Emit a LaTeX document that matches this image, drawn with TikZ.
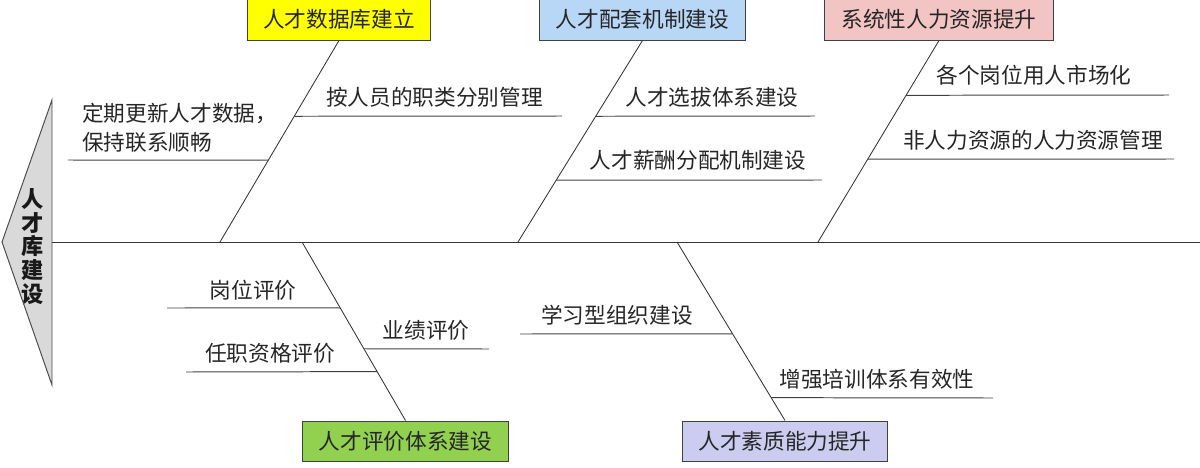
\documentclass[tikz,border=0pt]{standalone}
\usepackage{fontspec}
\setmainfont{Noto Sans CJK SC}
\usepackage{tikz}
\usetikzlibrary{calc}
\newcommand{\fsz}{\fontsize{15.4pt}{18pt}\selectfont}
\definecolor{dbfill}{RGB}{255,255,0}
\definecolor{mechfill}{RGB}{184,214,245}
\definecolor{hrfill}{RGB}{242,196,196}
\definecolor{evalfill}{RGB}{146,208,80}
\definecolor{qualfill}{RGB}{204,204,240}
\definecolor{headfill}{RGB}{217,217,217}

\begin{document}
\begin{tikzpicture}[
  x=0.025cm,y=-0.025cm,
  cause/.style={draw=black!75, line width=0.7pt, inner sep=0pt, font=\fsz, text=black!85, minimum height=1.0cm},
  bone/.style={draw=black!80, line width=0.6pt},
  twig/.style={draw=black!75, line width=0.7pt},
  lbl/.style={font=\fsz, text=black!85, inner sep=0pt}
]
\useasboundingbox (0,0) rectangle (1200,467);
% head and spine
\draw[fill=headfill, draw=black!70, line width=0.7pt] (2,242) -- (52,100) -- (52,385) -- cycle;
\node[font=\bfseries\fontsize{15.8pt}{16.8pt}\selectfont, align=center, inner sep=0pt, text=black!90] (head) at (33,246.5) {人\\才\\库\\建\\设};
\coordinate (spineL) at (52,242); \coordinate (spineR) at (1200,242);
\draw[bone, line width=0.7pt] (spineL) -- (spineR);
% category boxes
\node[cause, fill=dbfill, minimum width=4.55cm, minimum height=1.025cm] (db) at (339,19.5) {人才数据库建立};
\node[cause, fill=mechfill, minimum width=5.125cm, minimum height=1.025cm] (mech) at (642.5,19.5) {人才配套机制建设};
\node[cause, fill=hrfill, minimum width=5.7cm, minimum height=1.025cm] (hr) at (939,19.5) {系统性人力资源提升};
\node[cause, fill=evalfill, minimum width=5.125cm] (eval) at (405.5,441) {人才评价体系建设};
\node[cause, fill=qualfill, minimum width=5.1cm] (qual) at (785,441) {人才素质能力提升};
% bones
\coordinate (db-s) at (220,242); \coordinate (mech-s) at (518,242); \coordinate (hr-s) at (818,242);
\coordinate (eval-s) at (302,242); \coordinate (qual-s) at (677,242);
\draw[bone] (db.south) -- (db-s); \draw[bone] (mech.south) -- (mech-s); \draw[bone] (hr.south) -- (hr-s);
\draw[bone] (eval-s) -- (eval.north); \draw[bone] (qual-s) -- (qual.north);
% twigs on the upper bones
\coordinate (db-a) at ($(db.south)!0.376!(db-s)$); \coordinate (db-a2) at (562,116);
\coordinate (db-b) at ($(db.south)!0.594!(db-s)$); \coordinate (db-b2) at (68,160);
\coordinate (mech-a) at ($(mech.south)!0.376!(mech-s)$); \coordinate (mech-a2) at (815,116);
\coordinate (mech-b) at ($(mech.south)!0.693!(mech-s)$); \coordinate (mech-b2) at (822,180);
\coordinate (hr-a) at ($(hr.south)!0.272!(hr-s)$); \coordinate (hr-a2) at (1169,95);
\coordinate (hr-b) at ($(hr.south)!0.589!(hr-s)$); \coordinate (hr-b2) at (1174,159);
\draw[twig] (db-a) -- (db-a2); \draw[twig] (db-b) -- (db-b2); \draw[twig] (mech-a) -- (mech-a2); \draw[twig] (mech-b) -- (mech-b2); \draw[twig] (hr-a) -- (hr-a2); \draw[twig] (hr-b) -- (hr-b2);
% twigs on the lower bones
\coordinate (eval-a) at ($(eval-s)!0.369!(eval.north)$); \coordinate (eval-a2) at (167,308);
\coordinate (eval-b) at ($(eval-s)!0.726!(eval.north)$); \coordinate (eval-b2) at (186,372);
\coordinate (eval-c) at ($(eval-s)!0.598!(eval.north)$); \coordinate (eval-c2) at (489,349);
\coordinate (qual-a) at ($(qual-s)!0.514!(qual.north)$); \coordinate (qual-a2) at (520,334);
\coordinate (qual-b) at ($(qual-s)!0.872!(qual.north)$); \coordinate (qual-b2) at (993,398);
\draw[twig] (eval-a) -- (eval-a2); \draw[twig] (eval-b) -- (eval-b2); \draw[twig] (eval-c) -- (eval-c2); \draw[twig] (qual-a) -- (qual-a2); \draw[twig] (qual-b) -- (qual-b2);
% labels
\node[lbl] (db-l1) at (434.5,97) {按人员的职类分别管理};
\node[lbl, anchor=west, align=left, font=\fontsize{15.4pt}{20.6pt}\selectfont] (db-l2) at (82,127.5) {定期更新人才数据，\\保持联系顺畅};
\node[lbl] (mech-l1) at (712,97) {人才选拔体系建设};
\node[lbl] (mech-l2) at (698,160) {人才薪酬分配机制建设};
\node[lbl] (hr-l1) at (1034,75) {各个岗位用人市场化};
\node[lbl] (hr-l2) at (1033,140) {非人力资源的人力资源管理};
\node[lbl] (eval-l1) at (253,290) {岗位评价};
\node[lbl] (eval-l2) at (270,353) {任职资格评价};
\node[lbl] (eval-l3) at (426,330) {业绩评价};
\node[lbl] (qual-l1) at (617,315) {学习型组织建设};
\node[lbl] (qual-l2) at (877,379) {增强培训体系有效性};
\end{tikzpicture}
\end{document}
